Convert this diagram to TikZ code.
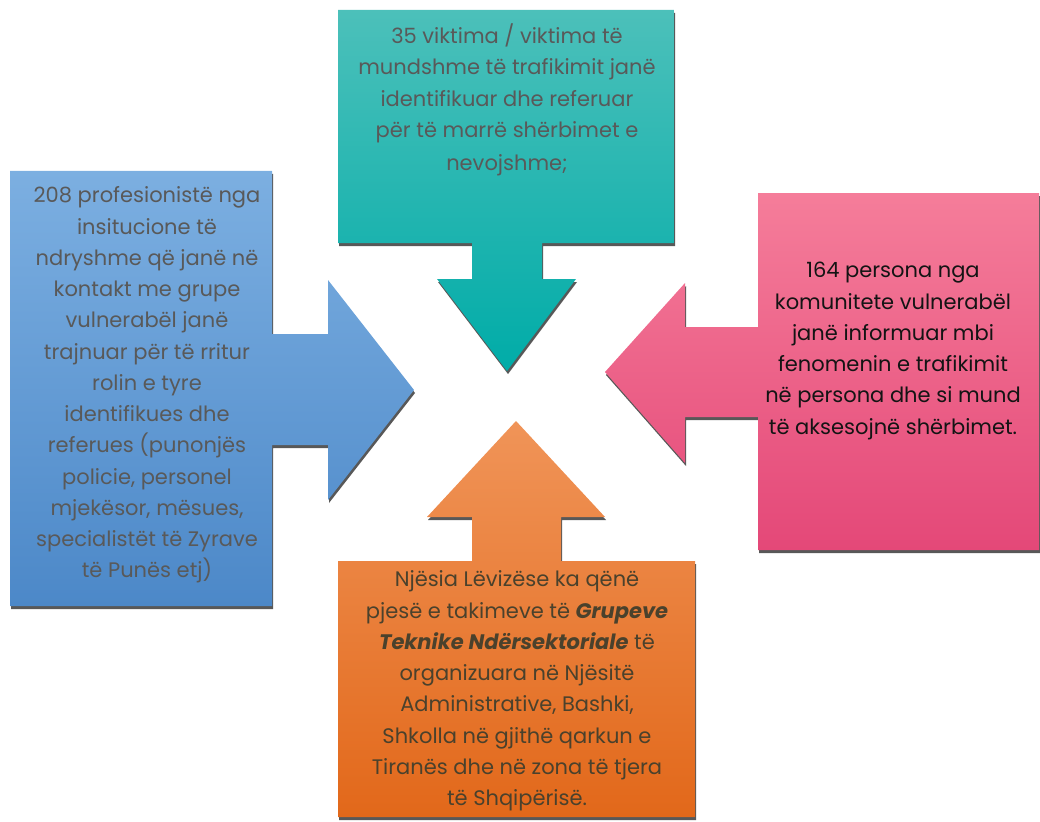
\documentclass[tikz,border=0pt]{standalone}
\usepackage{fontspec}
\setmainfont{Poppins}
\definecolor{bluetop}{RGB}{124,175,225}
\definecolor{bluebot}{RGB}{76,136,200}
\definecolor{tealtop}{RGB}{76,192,186}
\definecolor{tealbot}{RGB}{0,172,168}
\definecolor{pinktop}{RGB}{245,125,154}
\definecolor{pinkbot}{RGB}{228,72,120}
\definecolor{orgtop}{RGB}{240,148,88}
\definecolor{orgbot}{RGB}{226,104,26}
\definecolor{shadowgray}{RGB}{88,88,88}
\definecolor{txtgray}{RGB}{89,89,89}
\definecolor{txtdark}{RGB}{20,20,20}
\definecolor{txtbrown}{RGB}{74,65,44}
\tikzset{
  shadowpath/.style={fill=shadowgray, draw=none},
  boxtext/.style={align=center, font=\fontsize{21}{31.25}\selectfont, inner sep=0pt}
}
\begin{document}
\begin{tikzpicture}[x=1pt,y=-1pt]
\useasboundingbox (0,0) rectangle (1040,821);
% blue (left) callout
\begin{scope}[shift={(1,3)}]
\fill[shadowpath] (10,171) -- (272,171) -- (272,334) -- (328,334) -- (328,280) -- (414,390) -- (328,500) -- (328,445) -- (272,445) -- (272,606) -- (10,606) -- cycle;
\end{scope}
\path[top color=bluetop, bottom color=bluebot] (10,171) -- (272,171) -- (272,334) -- (328,334) -- (328,280) -- (414,390) -- (328,500) -- (328,445) -- (272,445) -- (272,606) -- (10,606) -- cycle;
% teal (top) callout
\begin{scope}[shift={(1,3)}]
\fill[shadowpath] (338,10) -- (674,10) -- (674,243) -- (542,243) -- (542,279) -- (576,279) -- (507,371) -- (437,279) -- (472,279) -- (472,243) -- (338,243) -- cycle;
\end{scope}
\path[top color=tealtop, bottom color=tealbot] (338,10) -- (674,10) -- (674,243) -- (542,243) -- (542,279) -- (576,279) -- (507,371) -- (437,279) -- (472,279) -- (472,243) -- (338,243) -- cycle;
% pink (right) callout
\begin{scope}[shift={(1,3)}]
\fill[shadowpath] (758,193) -- (1039,193) -- (1039,550) -- (758,550) -- (758,417) -- (685,417) -- (685,463) -- (605,372) -- (685,283) -- (685,327) -- (758,327) -- cycle;
\end{scope}
\path[top color=pinktop, bottom color=pinkbot] (758,193) -- (1039,193) -- (1039,550) -- (758,550) -- (758,417) -- (685,417) -- (685,463) -- (605,372) -- (685,283) -- (685,327) -- (758,327) -- cycle;
% orange (bottom) callout
\begin{scope}[shift={(1,3)}]
\fill[shadowpath] (338,561) -- (472,561) -- (472,517) -- (427,517) -- (516,421) -- (605,517) -- (561,517) -- (561,561) -- (695,561) -- (695,817) -- (338,817) -- cycle;
\end{scope}
\path[top color=orgtop, bottom color=orgbot] (338,561) -- (472,561) -- (472,517) -- (427,517) -- (516,421) -- (605,517) -- (561,517) -- (561,561) -- (695,561) -- (695,817) -- (338,817) -- cycle;
% texts
\node[boxtext, text=txtgray] (lefttext) at (147,385) {208 profesionistë nga\\insitucione të\\ndryshme që janë në\\kontakt me grupe\\vulnerabël janë\\trajnuar për të rritur\\rolin e tyre\\identifikues dhe\\referues (punonjës\\policie, personel\\mjekësor, mësues,\\specialistët të Zyrave\\të Punës etj)};
\node[boxtext, text=txtgray] (toptext) at (507,100) {35 viktima / viktima të\\mundshme të trafikimit janë\\identifikuar dhe referuar\\për të marrë shërbimet e\\[2pt]nevojshme;};
\node[boxtext, text=txtdark] (righttext) at (893,351) {164 persona nga\\komunitete vulnerabël\\janë informuar mbi\\fenomenin e trafikimit\\në persona dhe si mund\\të aksesojnë shërbimet.};
\node[boxtext, text=txtbrown] (bottomtext) at (517,691) {Njësia Lëvizëse ka qënë\\pjesë e takimeve të \textbf{\textit{Grupeve}}\\\textbf{\textit{Teknike Ndërsektoriale}} të\\organizuara në Njësitë\\Administrative, Bashki,\\Shkolla në gjithë qarkun e\\Tiranës dhe në zona të tjera\\të Shqipërisë.};
\end{tikzpicture}
\end{document}
